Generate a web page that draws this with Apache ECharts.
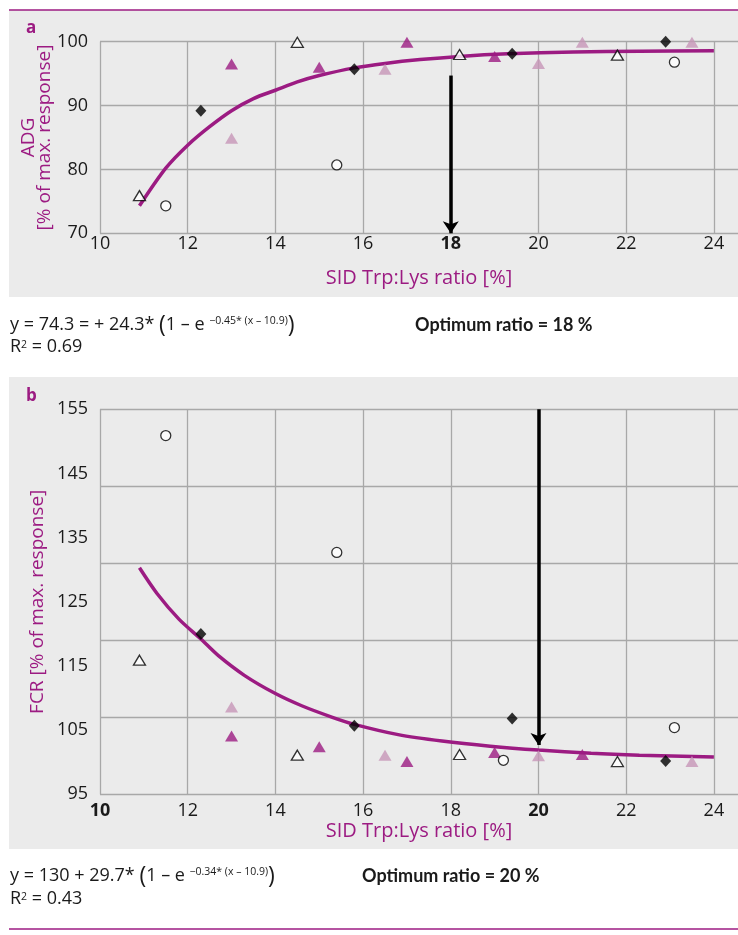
<!DOCTYPE html>
<html>
<head>
<meta charset="utf-8">
<script src="https://cdn.jsdelivr.net/npm/echarts@6/dist/echarts.min.js"></script>
<style>
  html, body { margin: 0; padding: 0; background: #fff; }
  #chart { width: 738px; height: 935px; }
</style>
</head>
<body>
<div id="chart"></div>
<script>
// ticks
const ratioTicks = [10, 12, 14, 16, 18, 20, 22, 24];
const adgTicks = [70, 80, 90, 100];
const fcrTicks = [95, 105, 115, 125, 135, 145, 155];

// panel a - ADG, % of max response
const adgDiamond = [[12.3, 89.2], [15.8, 95.7], [19.4, 98.1], [22.9, 100.0]];
const adgCircle = [[11.5, 74.3], [15.4, 80.7], [19.2, 100.1], [23.1, 96.8]];
const adgOpenTri = [[10.9, 75.9], [14.5, 99.9], [18.2, 98.0], [21.8, 97.9]];
const adgPurpleTri = [[13.0, 96.5], [15.0, 96.0], [17.0, 99.9], [19.0, 97.7]];
const adgPinkTri = [[13.0, 84.9], [16.5, 95.7], [20.0, 96.6], [21.0, 99.9], [23.5, 99.9]];
const adgFitX = [10.9, 11.5, 12, 12.5, 13, 13.5, 14, 14.5, 15, 15.8, 16.5, 17.3, 18.2, 19.3, 20.8, 22.3, 24];
const adgFitY = [74.3, 80.2, 83.8, 86.7, 89.2, 91.1, 92.4, 93.7, 94.7, 95.9, 96.6, 97.2, 97.7, 98.1, 98.4, 98.5, 98.6];
const adgArrow = [[18, 94.7], [18, 70]];

// panel b - FCR, % of max response
const fcrDiamond = [[12.3, 120.0], [15.8, 105.7], [19.4, 106.8], [22.9, 100.2]];
const fcrCircle = [[11.5, 150.9], [15.4, 132.7], [19.2, 100.3], [23.1, 105.4]];
const fcrOpenTri = [[10.9, 115.9], [14.5, 101.1], [18.2, 101.2], [21.8, 100.1]];
const fcrPurpleTri = [[13.0, 104.1], [15.0, 102.4], [17.0, 100.1], [19.0, 101.5], [21.0, 101.2]];
const fcrPinkTri = [[13.0, 108.6], [16.5, 101.1], [20.0, 101.0], [23.5, 100.1]];
const fcrFitX = [10.9, 11.3, 11.8, 12.3, 12.7, 13.3, 14, 14.6, 15.3, 15.8, 16.8, 17.8, 18.9, 20, 21.2, 22.3, 24];
const fcrFitY = [130.3, 126.3, 122.3, 119.2, 116.6, 113.5, 110.7, 108.8, 107.0, 105.9, 104.3, 103.3, 102.5, 101.9, 101.4, 101.1, 100.8];
const fcrArrow = [[20, 155], [20, 102.7]];

const PURPLE = "#9c1b82";
const PINK = "#c796b8";
const GRID = "#a8a8a8";
const INK = "#1a1a1a";
const FONT = "Open Sans";

const chart = echarts.init(document.getElementById("chart"), null, { renderer: "canvas" });

const zip = (xs, ys) => xs.map((x, i) => [x, ys[i]]);

function xAxisFor(gridIndex, boldTicks, labelMargin, nameGap) {
  return {
    type: "value",
    gridIndex,
    position: "bottom",
    min: 10,
    max: 24.55,
    interval: 2,
    axisLine: { show: false },
    axisTick: { show: false },
    splitLine: { show: true, showMaxLine: false, lineStyle: { color: GRID, width: 1.3 } },
    axisLabel: {
      showMaxLabel: false,
      margin: labelMargin,
      color: INK,
      fontSize: 18,
      fontFamily: FONT,
      formatter: (v) => {
        if (!ratioTicks.includes(v)) return "";
        return boldTicks.includes(v) ? "{b|" + v + "}" : String(v);
      },
      rich: { b: { fontWeight: "bold", fontSize: 18, fontFamily: FONT, color: INK } },
    },
    name: "SID Trp:Lys ratio [%]",
    nameLocation: "middle",
    nameGap,
    nameMoveOverlap: false,
    nameTextStyle: { color: PURPLE, fontSize: 20, fontFamily: FONT },
  };
}

function scatter(data, xi, yi, symbol, size, color, border) {
  return {
    type: "scatter",
    xAxisIndex: xi,
    yAxisIndex: yi,
    data,
    symbol,
    symbolSize: size,
    z: 4,
    itemStyle: border
      ? { color: "#fff", borderColor: "#000", borderWidth: 1.3 }
      : { color },
    emphasis: { disabled: true },
  };
}

function fitLine(data, xi, yi, arrow) {
  return {
    type: "line",
    xAxisIndex: xi,
    yAxisIndex: yi,
    data,
    smooth: 0.3,
    showSymbol: false,
    z: 2,
    lineStyle: { color: PURPLE, width: 3.5 },
    emphasis: { disabled: true },
    markLine: {
      silent: true,
      symbol: ["none", "arrow"],
      symbolSize: 12,
      label: { show: false },
      lineStyle: { color: "#000", width: 3.5, type: "solid" },
      data: [[{ coord: arrow[0] }, { coord: arrow[1] }]],
    },
  };
}

const formulaRich = {
  n: { fontSize: 18, fontFamily: FONT, fill: INK },
  p: { fontSize: 23, fontFamily: FONT, fill: INK },
  s: { fontSize: 10.5, fontFamily: FONT, fill: INK, verticalAlign: "top", padding: [2, 0, 0, 0] },
};
const boldNote = { fill: INK, fontSize: 18, fontWeight: "bold", fontFamily: "Lato", verticalAlign: "middle" };

const option = {
  animation: false,
  backgroundColor: "#fff",
  grid: [
    { left: 100, top: 41.7, width: 638, height: 191.6, outerBoundsMode: "none" },
    { left: 100, top: 409.3, width: 638, height: 385, outerBoundsMode: "none" },
  ],
  xAxis: [xAxisFor(0, [18], 2, 35), xAxisFor(1, [10, 20], 8, 27)],
  yAxis: [
    {
      type: "value",
      gridIndex: 0,
      position: "left",
      min: 70,
      max: 100,
      interval: 10,
      axisLine: { show: false },
      axisTick: { show: false },
      splitLine: { show: true, lineStyle: { color: GRID, width: 1.3 } },
      axisLabel: { margin: 12, color: INK, fontSize: 18, fontFamily: FONT,
        formatter: (v) => (adgTicks.includes(v) ? String(v) : "") },
      name: "ADG\n[% of max. response]",
      nameLocation: "middle",
      nameRotate: 90,
      nameGap: 47,
      nameMoveOverlap: false,
      nameTextStyle: { color: PURPLE, fontSize: 19, fontFamily: FONT, lineHeight: 16, align: "center" },
    },
    // FCR data axis
    { type: "value", gridIndex: 1, position: "left", min: 95, max: 155, show: false },
    // FCR tick labels (every 10 from 95)
    {
      type: "value",
      gridIndex: 1,
      position: "left",
      min: 0,
      max: 60,
      interval: 10,
      axisLine: { show: false },
      axisTick: { show: false },
      splitLine: { show: false },
      axisLabel: { margin: 12, color: INK, fontSize: 18, fontFamily: FONT,
        formatter: (v) => String(fcrTicks[Math.round(v / 10)]) },
      name: "FCR [% of max. response]",
      nameLocation: "middle",
      nameRotate: 90,
      nameGap: 53,
      nameMoveOverlap: false,
      nameTextStyle: { color: PURPLE, fontSize: 19, fontFamily: FONT },
    },
    // FCR grid lines (5 bands)
    {
      type: "value",
      gridIndex: 1,
      position: "left",
      min: 0,
      max: 60,
      interval: 12,
      axisLine: { show: false },
      axisTick: { show: false },
      axisLabel: { show: false },
      splitLine: { show: true, lineStyle: { color: GRID, width: 1.3 } },
    },
  ],
  series: [
    fitLine(zip(adgFitX, adgFitY), 0, 0, adgArrow),
    scatter(adgPinkTri, 0, 0, "triangle", [13, 11], PINK),
    scatter(adgPurpleTri, 0, 0, "triangle", [13, 11], PURPLE),
    scatter(adgOpenTri, 0, 0, "triangle", [12, 10], null, true),
    scatter(adgCircle, 0, 0, "circle", 10, null, true),
    scatter(adgDiamond, 0, 0, "diamond", [11, 12], "#000"),

    fitLine(zip(fcrFitX, fcrFitY), 1, 1, fcrArrow),
    scatter(fcrPinkTri, 1, 1, "triangle", [13, 11], PINK),
    scatter(fcrPurpleTri, 1, 1, "triangle", [13, 11], PURPLE),
    scatter(fcrOpenTri, 1, 1, "triangle", [12, 10], null, true),
    scatter(fcrCircle, 1, 1, "circle", 10, null, true),
    scatter(fcrDiamond, 1, 1, "diamond", [11, 12], "#000"),
  ],
  graphic: [
    { type: "rect", z: -100, silent: true, shape: { x: 9, y: 10, width: 729, height: 287 }, style: { fill: "#ebebeb" } },
    { type: "rect", z: -100, silent: true, shape: { x: 9, y: 377, width: 729, height: 472 }, style: { fill: "#ebebeb" } },
    { type: "line", silent: true, shape: { x1: 9, y1: 10, x2: 738, y2: 10 }, style: { stroke: PURPLE, lineWidth: 1.5 } },
    { type: "line", silent: true, shape: { x1: 9, y1: 929, x2: 738, y2: 929 }, style: { stroke: PURPLE, lineWidth: 1.5 } },
    { type: "text", silent: true, x: 26, y: 28, style: { text: "a", fill: PURPLE, fontSize: 17, fontWeight: "bold", fontFamily: FONT, verticalAlign: "middle" } },
    { type: "text", silent: true, x: 26, y: 396, style: { text: "b", fill: PURPLE, fontSize: 17, fontWeight: "bold", fontFamily: FONT, verticalAlign: "middle" } },

    { type: "text", silent: true, x: 10, y: 325, style: {
        text: "{n|y = 74.3 = + 24.3* }{p|(}{n|1 – e }{s|−0.45* (x – 10.9)}{p|)}",
        rich: formulaRich, verticalAlign: "middle" } },
    { type: "text", silent: true, x: 10, y: 347, style: {
        text: "{n|R}{s|2}{n| = 0.69}", rich: formulaRich, verticalAlign: "middle" } },
    { type: "text", silent: true, x: 415, y: 325, style: Object.assign({ text: "Optimum ratio = 18 %" }, boldNote) },

    { type: "text", silent: true, x: 10, y: 876, style: {
        text: "{n|y = 130 + 29.7* }{p|(}{n|1 – e }{s|−0.34* (x – 10.9)}{p|)}",
        rich: formulaRich, verticalAlign: "middle" } },
    { type: "text", silent: true, x: 10, y: 899, style: {
        text: "{n|R}{s|2}{n| = 0.43}", rich: formulaRich, verticalAlign: "middle" } },
    { type: "text", silent: true, x: 362, y: 876, style: Object.assign({ text: "Optimum ratio = 20 %" }, boldNote) },
  ],
};

chart.setOption(option);
window.addEventListener("resize", () => chart.resize());
</script>
</body>
</html>
